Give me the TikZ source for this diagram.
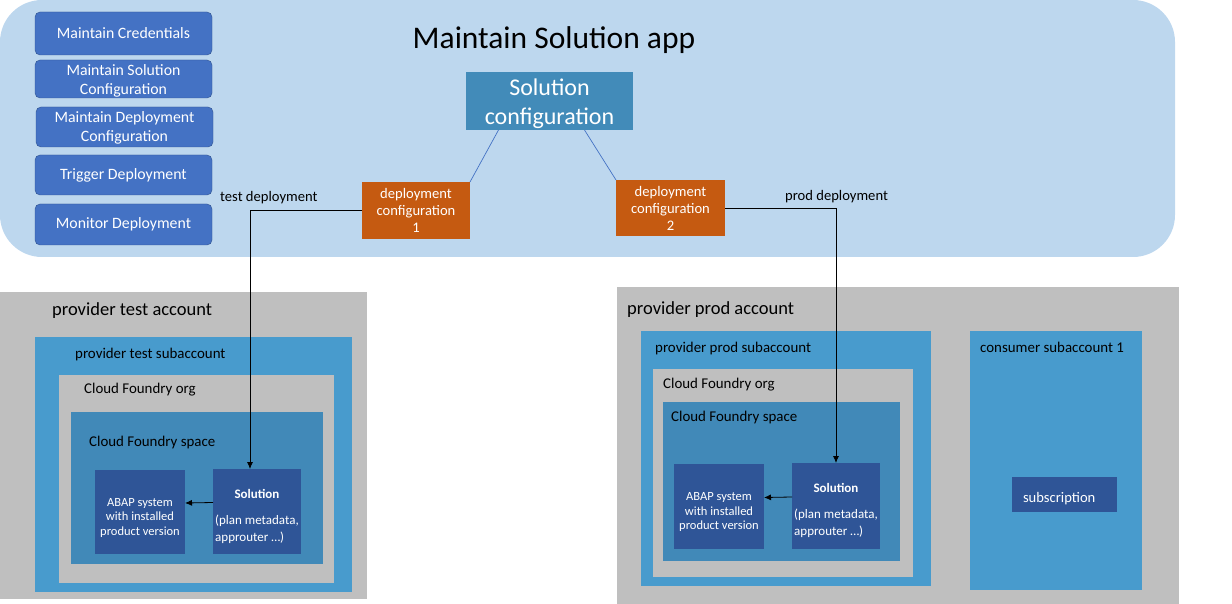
\documentclass[tikz,border=0pt]{standalone}
\usepackage{fontspec}
\setmainfont{Carlito}
\usetikzlibrary{arrows.meta}

\definecolor{appbg}{RGB}{189,215,238}
\definecolor{btnblue}{RGB}{68,114,196}
\definecolor{btnedge}{RGB}{47,82,143}
\definecolor{solblue}{RGB}{66,139,185}
\definecolor{deporange}{RGB}{197,90,17}
\definecolor{acctgray}{RGB}{191,191,191}
\definecolor{subblue}{RGB}{72,155,205}
\definecolor{spaceblue}{RGB}{65,137,184}
\definecolor{darkblue}{RGB}{47,85,151}

% move a box's text down without changing its size
\newcommand{\lowerby}[2]{\raisebox{-#1}[\height][\depth]{#2}}

\tikzset{
  plainbox/.style={anchor=north west, inner sep=0pt, outer sep=0pt},
  btn/.style={plainbox, fill=btnblue, draw=btnedge, rounded corners=5pt, text=white, align=center, font=\fontsize{15.8}{19}\selectfont, minimum width=177pt},
  depbox/.style={plainbox, fill=deporange, text=white, align=center, font=\fontsize{14.6}{17}\selectfont, minimum width=108pt, minimum height=57pt},
  sysbox/.style={plainbox, fill=darkblue, text=white, align=center, font=\fontsize{12.5}{14.5}\selectfont},
  capt/.style={anchor=base west, inner sep=0pt, font=\fontsize{14.9}{17}\selectfont},
  flow/.style={-{Latex[length=7pt,width=6pt]}, line width=0.8pt},
  link/.style={draw=btnblue, line width=0.7pt},
}

\begin{document}
\begin{tikzpicture}[x=1pt, y=-1pt]
  \useasboundingbox (0,0) rectangle (1232,604);

  % app panel
  \node[plainbox, fill=appbg, rounded corners=42pt, minimum width=1175pt, minimum height=257pt] (app) at (0,0) {};
  \node[anchor=base, inner sep=0pt, font=\fontsize{31.5}{36}\selectfont] (title) at (554,49) {Maintain Solution app};

  \node[btn, minimum height=43pt] (cred) at (35,12) {Maintain Credentials};
  \node[btn, minimum height=38pt] (mainsol) at (35,60) {\lowerby{2pt}{\begin{tabular}{@{}c@{}}Maintain Solution\\Configuration\end{tabular}}};
  \node[btn, minimum height=40pt] (maindep) at (36,107) {\lowerby{1pt}{\begin{tabular}{@{}c@{}}Maintain Deployment\\Configuration\end{tabular}}};
  \node[btn, minimum height=40pt] (trigger) at (35,155) {Trigger Deployment};
  \node[btn, minimum height=41pt] (monitor) at (35,204) {Monitor Deployment};

  \node[plainbox, fill=solblue, text=white, font=\fontsize{24}{29}\selectfont, minimum width=167pt, minimum height=56pt] (solution) at (466,72) {\lowerby{3pt}{\begin{tabular}{@{}c@{}}Solution\\configuration\end{tabular}}};
  \node[depbox] (dep1) at (362,182) {deployment\\configuration\\1};
  \node[depbox, minimum width=109pt, minimum height=56pt] (dep2) at (616,180) {deployment\\configuration\\2};
  \draw[link] ([xshift=-51pt]solution.south) -- (dep1.north east);
  \draw[link] ([xshift=35pt]solution.south) -- (dep2.north west);

  % provider test account
  \node[plainbox, fill=acctgray, minimum width=367pt, minimum height=307pt] (testacct) at (0,292) {};
  \node[capt, font=\fontsize{18.5}{21}\selectfont] (testacctlbl) at (52,316) {provider test account};
  \node[plainbox, fill=subblue, minimum width=317pt, minimum height=255pt] (testsub) at (35,337) {};
  \node[capt] (testsublbl) at (75,358) {provider test subaccount};
  \node[plainbox, fill=acctgray, minimum width=275pt, minimum height=208pt] (testorg) at (59,375) {};
  \node[capt] (testorglbl) at (84,393) {Cloud Foundry org};
  \node[plainbox, fill=spaceblue, minimum width=252pt, minimum height=152pt] (testspace) at (71,412) {};
  \node[capt] (testspacelbl) at (89,446) {Cloud Foundry space};
  \node[sysbox, minimum width=90pt, minimum height=84pt] (testabap) at (95,470)
    {\lowerby{6pt}{\begin{tabular}{@{}c@{}}ABAP system\\with installed\\product version\end{tabular}}};
  \node[sysbox, minimum width=88pt, minimum height=85pt, font=\fontsize{13}{17}\selectfont] (testsol) at (213,469)
    {\lowerby{5pt}{\begin{tabular}{@{}l@{}}\multicolumn{1}{@{}c@{}}{\textbf{Solution}}\\[9pt](plan metadata,\\approuter \ldots)\end{tabular}}};

  % provider prod account
  \node[plainbox, fill=acctgray, minimum width=562pt, minimum height=317pt] (prodacct) at (617,287) {};
  \node[capt, font=\fontsize{18.5}{21}\selectfont] (prodacctlbl) at (627,314) {provider prod account};
  \node[plainbox, fill=subblue, minimum width=290pt, minimum height=255pt] (prodsub) at (641,331) {};
  \node[capt] (prodsublbl) at (655,352) {provider prod subaccount};
  \node[plainbox, fill=acctgray, minimum width=260pt, minimum height=208pt] (prodorg) at (653,369) {};
  \node[capt] (prodorglbl) at (663,388) {Cloud Foundry org};
  \node[plainbox, fill=spaceblue, minimum width=237pt, minimum height=159pt] (prodspace) at (663,402) {};
  \node[capt] (prodspacelbl) at (671,421) {Cloud Foundry space};
  \node[sysbox, minimum width=90pt, minimum height=85pt] (prodabap) at (674,464)
    {\lowerby{6pt}{\begin{tabular}{@{}c@{}}ABAP system\\with installed\\product version\end{tabular}}};
  \node[sysbox, minimum width=88pt, minimum height=86pt, font=\fontsize{13}{17}\selectfont] (prodsol) at (792,463)
    {\lowerby{5pt}{\begin{tabular}{@{}l@{}}\multicolumn{1}{@{}c@{}}{\textbf{Solution}}\\[9pt](plan metadata,\\approuter \ldots)\end{tabular}}};
  \node[plainbox, fill=subblue, minimum width=172pt, minimum height=259pt] (consumer) at (970,331) {};
  \node[capt] (consumerlbl) at (980,352) {consumer subaccount 1};
  \node[plainbox, fill=darkblue, text=white, font=\fontsize{14.6}{16}\selectfont, minimum width=105pt, minimum height=35pt, inner xsep=11pt, text width=83pt, align=left] (subscr) at (1012,477) {\lowerby{4pt}{subscription}};

  % deployments
  \draw[flow] (dep1.west) -| ([xshift=-7pt]testsol.north);
  \node[capt, font=\fontsize{14.6}{17}\selectfont] (testlbl) at (220,202) {test deployment};
  \draw[flow] (dep2.east) -| (prodsol.north);
  \node[capt, font=\fontsize{14.6}{17}\selectfont] (prodlbl) at (785,201) {prod deployment};
  \draw[flow] ([yshift=9pt]testsol.west) -- ([yshift=9pt]testabap.east);
  \draw[flow] ([yshift=9pt]prodsol.west) -- ([yshift=9pt]prodabap.east);
\end{tikzpicture}
\end{document}
